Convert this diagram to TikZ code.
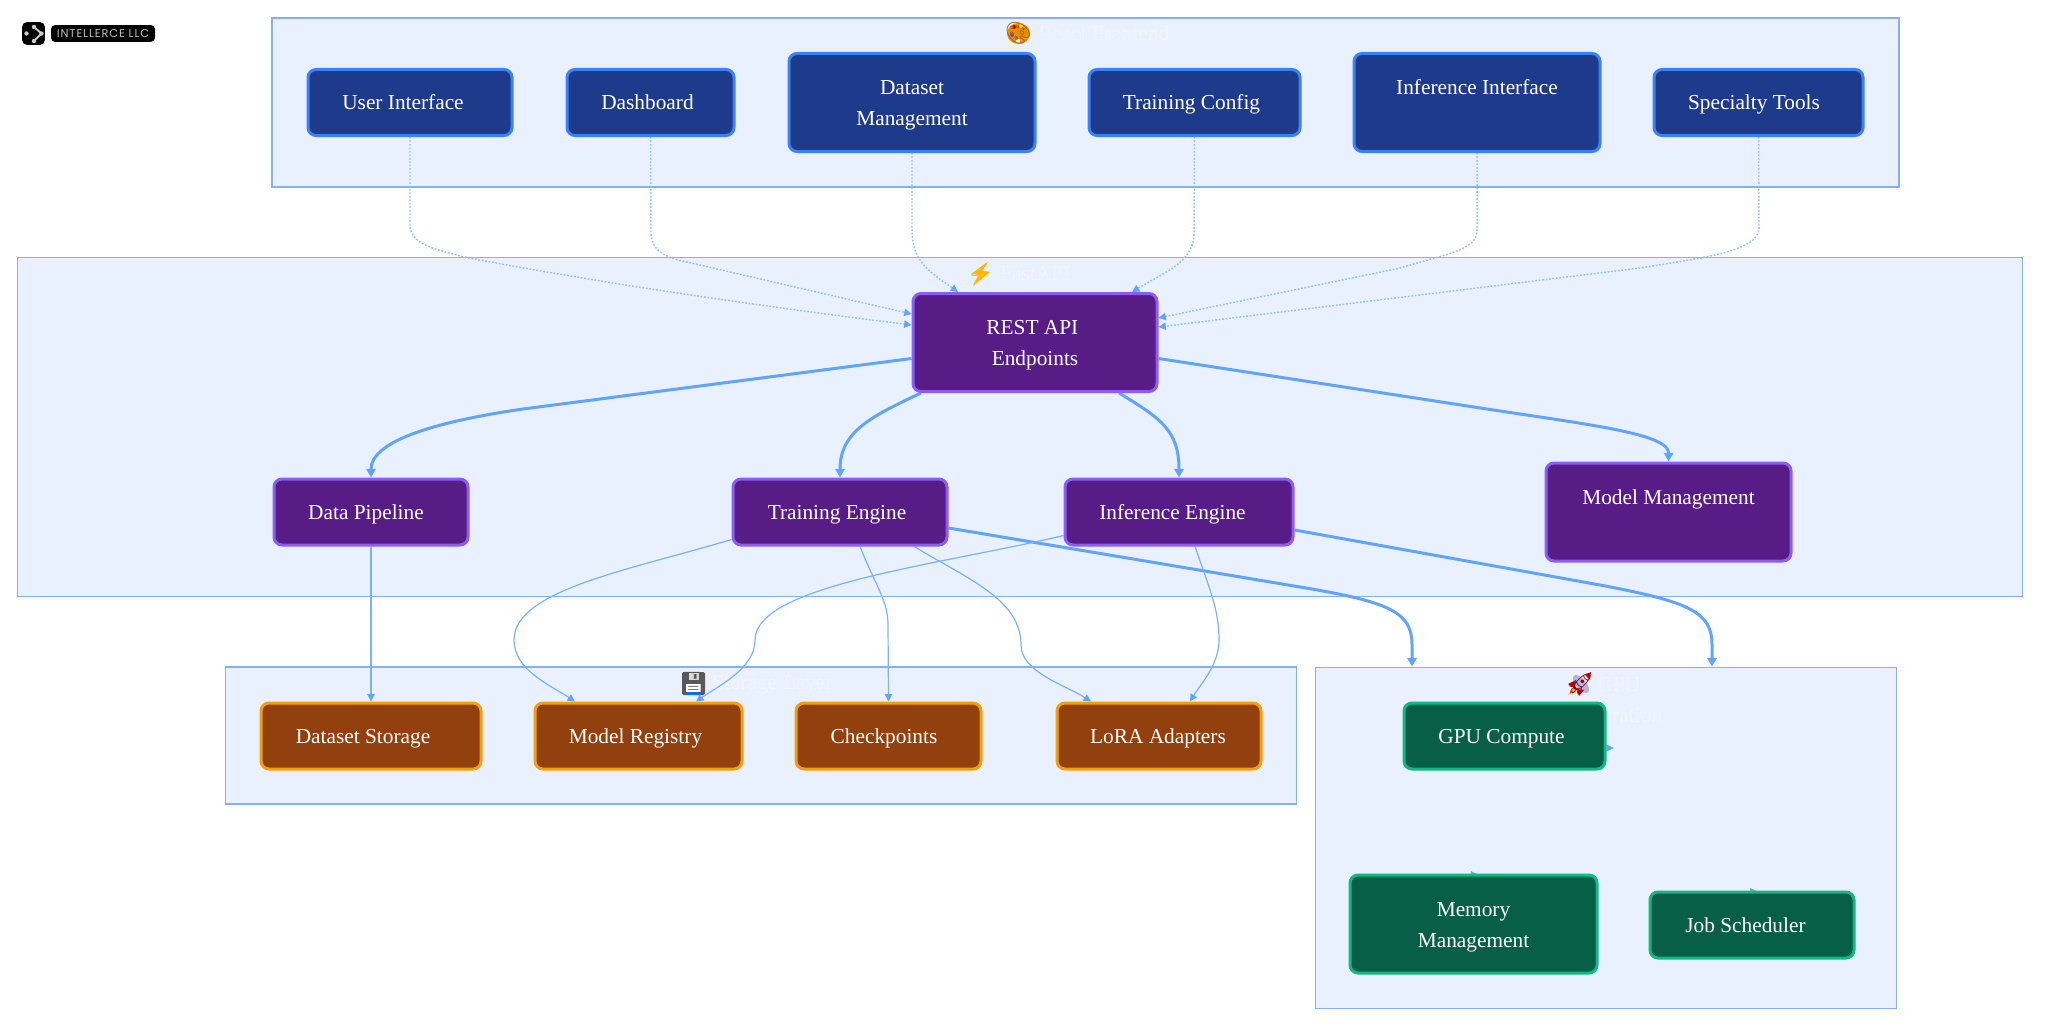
\documentclass[tikz,border=0pt]{standalone}
\usepackage{fontspec}
\setmainfont{Liberation Serif}
\newfontfamily\emojifont{Noto Emoji}
\newfontfamily\logofont[LetterSpace=8]{Poppins}
\usetikzlibrary{arrows.meta,calc}

\definecolor{clusterfill}{HTML}{EAF1FE}
\definecolor{clusterline}{HTML}{86AFF7}
\definecolor{edgeblue}{HTML}{60A5FA}
\definecolor{titlewhite}{HTML}{F3F6FE}
\definecolor{frontline}{HTML}{3B82F6}
\definecolor{frontfill}{HTML}{1E3A8A}
\definecolor{apiline}{HTML}{8B5CF6}
\definecolor{apifill}{HTML}{581C87}
\definecolor{storeline}{HTML}{F59E0B}
\definecolor{storefill}{HTML}{92400E}
\definecolor{gpuline}{HTML}{10B981}
\definecolor{gpufill}{HTML}{065F46}

\pgfdeclarelayer{clusters}
\pgfdeclarelayer{edges}
\pgfsetlayers{clusters,edges,main}

\newcommand{\upline}{\rule{0pt}{15pt}}
\newcommand{\downline}{\rule[-3.5pt]{0pt}{3.5pt}}

\tikzset{
  cluster/.style={draw=clusterline,fill=clusterfill,line width=1.1pt,rectangle},
  clustertitle/.style={text=titlewhite,font=\fontsize{16pt}{23.5pt}\selectfont,inner sep=0pt},
  emoji/.style={font=\emojifont\fontsize{16pt}{18pt}\selectfont,inner sep=0pt},
  box/.style={rectangle,rounded corners=6pt,line width=2.25pt,text=white,
    font=\fontsize{16pt}{23.5pt}\selectfont,minimum height=49.5pt,inner sep=0pt,
    text height=14.7pt,text depth=3.5pt},
  tall/.style={minimum height=73.5pt,align=center,text height=,text depth=},
  frontbox/.style={box,draw=frontline,fill=frontfill},
  apibox/.style={box,draw=apiline,fill=apifill},
  storebox/.style={box,draw=storeline,fill=storefill},
  gpubox/.style={box,draw=gpuline,fill=gpufill},
  callarrow/.style={draw=edgeblue!70!white,line width=1.1pt,dash pattern=on 1.3pt off 1.3pt,
    -{Triangle[length=5.5pt,width=5.5pt,color=edgeblue]}},
  mainarrow/.style={draw=edgeblue,line width=2.25pt,
    -{Triangle[length=6.5pt,width=7pt,color=edgeblue]}},
  linkarrow/.style={draw=edgeblue!85!white,line width=.9pt,
    -{Triangle[length=5.5pt,width=5.5pt,color=edgeblue]}},
  stub/.style={draw=edgeblue,line width=.2pt,-{Triangle[length=5pt,width=5pt,color=edgeblue]}},
}

\begin{document}
\begin{tikzpicture}[x=0.75pt,y=-0.75pt]
\useasboundingbox (0,0) rectangle (2048,1031);

% logo
\node[fill=black,rounded corners=3.5pt,minimum width=17pt,minimum height=17pt,inner sep=0pt] (logomark) at (33.5,33.5) {};
\draw[draw=black!20,line width=1.4pt] (34,27) -- (41.5,33.5) -- (34,41);
\fill[black!20] (26.5,33.5) circle (2.2) (34,27) circle (2.2) (41.5,33.5) circle (2.2) (34,41) circle (2.2);
\node[fill=black,rounded corners=3pt,minimum width=78pt,minimum height=12.5pt,inner sep=0pt,
  text=black!25,font=\logofont\fontsize{8.5pt}{9pt}\selectfont] (logoname) at (103,33.5) {INTELLERCE LLC};

% layers
\begin{pgfonlayer}{clusters}
\node[cluster,minimum width=1220pt,minimum height=126.5pt] (frontend) at (1085.5,102.5) {};
\node[cluster,minimum width=1503.5pt,minimum height=254.5pt] (backend) at (1020,427) {};
\node[cluster,minimum width=803pt,minimum height=102.5pt] (storage) at (761,735.5) {};
\node[cluster,minimum width=435.5pt,minimum height=256pt] (gpulayer) at (1606,838) {};

\fill[orange!75!yellow!90!black] (1018.5,33.5) ellipse (11.5 and 10.5);
\fill[red!75!black] (1014,27) circle (2);
\fill[yellow!80!orange] (1021,26) circle (2);
\fill[blue!70!white] (1012,35) circle (2);
\fill[white] (1018,41) circle (2.2);
\node[emoji,text=orange!70!black] (palette) at (1018.5,33.5) {🎨};
\node[clustertitle,anchor=west] (fronttitle) at (1038,33) {React Frontend};

\fill[orange!55!yellow] (988,262) -- (971,274) -- (979,275) -- (973,286) -- (990,272) -- (982,271) -- cycle;
\node[emoji,text=orange!55!yellow] (bolt) at (980,274) {⚡};
\node[clustertitle,anchor=west] (apititle) at (1000,274) {FastAPI};

\fill[black!65,rounded corners=1.5pt] (682,672) rectangle (705,695);
\fill[white] (686,684) rectangle (701,695);
\fill[blue!55!cyan] (686,692) rectangle (701,695);
\fill[black!15] (689,673) rectangle (699,680);
\node[emoji,text=black!65] (floppy) at (693.5,683.5) {💾};
\node[clustertitle,anchor=west] (storetitle) at (712,685) {Storage Layer};

\fill[black!35!blue!30!white,rotate around={-50:(1581,684)}] (1581,684) ellipse (11 and 5);
\fill[red!75!black] (1591,672) -- (1585,675) -- (1590,680) -- cycle;
\fill[red!75!black] (1576,680) -- (1568,684) -- (1574,688) -- cycle;
\fill[red!75!black] (1584,690) -- (1579,696) -- (1577,689) -- cycle;
\fill[orange!70!yellow] (1574,688) -- (1568,695) -- (1576,692) -- cycle;
\node[emoji,text=red!60!black] (rocket) at (1580,684) {🚀};
\node[clustertitle,align=center] (gputitle) at (1604,700) {\hspace*{22.5pt}GPU\\Orchestration};
\end{pgfonlayer}

% frontend
\node[frontbox,minimum width=153pt] (ui) at (410,102.5) {User Interface\hspace*{10.5pt}};
\node[frontbox,minimum width=125.25pt] (dash) at (650.5,102.5) {Dashboard\hspace*{4.5pt}};
\node[frontbox,tall,minimum width=184.5pt] (dataset) at (912,102.5) {\upline Dataset\\Management\downline};
\node[frontbox,minimum width=158.25pt] (config) at (1194.5,102.5) {Training Config\hspace*{4.5pt}};
\node[frontbox,tall,minimum width=184.5pt] (infui) at (1477,102.5) {\upline Inference Interface\\\downline};
\node[frontbox,minimum width=156.75pt] (tools) at (1758.5,102.5) {Specialty Tools\hspace*{6.75pt}};

% backend
\node[apibox,tall,minimum width=183pt] (rest) at (1035,342.5) {\upline REST API\hspace*{4pt}\\Endpoints\downline};
\node[apibox,minimum width=145.5pt] (pipe) at (371,512) {Data Pipeline\hspace*{7.5pt}};
\node[apibox,minimum width=160.5pt] (train) at (840,512) {Training Engine\hspace*{4.5pt}};
\node[apibox,minimum width=171pt] (infer) at (1179,512) {Inference Engine\hspace*{9.75pt}};
\node[apibox,tall,minimum width=183.75pt] (models) at (1668.5,512) {\upline Model Management\\\downline};

% storage
\node[storebox,minimum width=165pt] (dstore) at (371,736) {Dataset Storage\hspace*{12pt}};
\node[storebox,minimum width=155.25pt] (registry) at (638.5,736) {Model Registry\hspace*{4.5pt}};
\node[storebox,minimum width=138.75pt] (ckpt) at (888.5,736) {Checkpoints\hspace*{6.75pt}};
\node[storebox,minimum width=153pt] (lora) at (1159,736) {LoRA Adapters\hspace*{1.5pt}};

% gpu
\node[gpubox,minimum width=150.75pt] (compute) at (1504.5,736) {GPU Compute\hspace*{4.5pt}};
\node[gpubox,tall,minimum width=185.25pt] (memory) at (1473.5,924) {\upline Memory\\Management\downline};
\node[gpubox,minimum width=153pt] (jobs) at (1752,925) {Job Scheduler\hspace*{9.75pt}};

\begin{pgfonlayer}{edges}
% calls to the api
\draw[callarrow] (ui.south) -- (410,225) .. controls (410,246) and (440,250) .. (464,257) .. controls (600,283) and (760,306) .. ($(rest.west)+(0,-17.5)$);
\draw[callarrow] (dash.south) -- (651,233) .. controls (651,250) and (665,258) .. (687,262) -- ($(rest.west)+(0,-28.5)$);
\draw[callarrow] (dataset.south) -- (912,230) .. controls (912,262) and (930,272) .. ($(rest.north)+(-77,0)$);
\draw[callarrow] (config.south) -- (1194,233) .. controls (1194,262) and (1165,272) .. ($(rest.north)+(97,0)$);
\draw[callarrow] (infui.south) -- (1477,230) .. controls (1477,250) and (1450,253) .. (1400,268) -- ($(rest.east)+(0,-24.5)$);
\draw[callarrow] (tools.south) -- (1759,228) .. controls (1759,252) and (1700,258) .. (1640,268) -- ($(rest.east)+(0,-15.5)$);

% api to engines
\draw[mainarrow] ($(rest.west)+(0,16)$) -- (523,409) .. controls (440,421) and (371,440) .. (pipe.north);
\draw[mainarrow] ($(rest.south)+(-114,0)$) .. controls (870,417) and (840,432) .. (train.north);
\draw[mainarrow] ($(rest.south)+(84,0)$) .. controls (1160,418) and (1179,430) .. (infer.north);
\draw[mainarrow] ($(rest.east)+(0,16)$) -- (1500,411) .. controls (1600,426) and (1669,435) .. (models.north);

% engines to gpu
\draw[mainarrow] ($(train.east)+(0,16)$) -- (1300,587) .. controls (1390,602) and (1412,612) .. (1412,645) -- ($(gpulayer.north)+(-194,0)$);
\draw[mainarrow] ($(infer.east)+(0,18)$) -- (1600,585) .. controls (1690,602) and (1712,612) .. (1712,645) -- ($(gpulayer.north)+(106,0)$);

% engines to storage
\draw[linkarrow] (pipe.south) -- (dstore.north);
\draw[linkarrow] ($(train.south west)+(0,-7)$) .. controls (630,570) and (514,590) .. (514,640) .. controls (514,670) and (550,685) .. ($(registry.north)+(-63.5,0)$);
\draw[linkarrow] ($(infer.south west)+(0,-11)$) .. controls (940,565) and (755,585) .. (755,640) .. controls (755,668) and (720,685) .. ($(registry.north)+(57.5,0)$);
\draw[linkarrow] ($(train.south)+(20,0)$) .. controls (875,585) and (888,600) .. (888,625) -- (ckpt.north);
\draw[linkarrow] ($(train.south)+(74,0)$) .. controls (970,580) and (1021,600) .. (1021,645) .. controls (1021,672) and (1065,685) .. ($(lora.north)+(-68,0)$);
\draw[linkarrow] ($(infer.south)+(16,0)$) .. controls (1210,590) and (1219,610) .. (1219,640) .. controls (1219,665) and (1200,685) .. ($(lora.north)+(31,0)$);

% tips left in the gpu layer
\draw[stub] ($(compute.east)+(0,12)$) -- ++(7,0);
\draw[stub] ($(memory.north)+(-3,1)$) -- ++(7,0);
\draw[stub] ($(jobs.north)+(-2,1)$) -- ++(7,0);
\end{pgfonlayer}

\end{tikzpicture}
\end{document}
